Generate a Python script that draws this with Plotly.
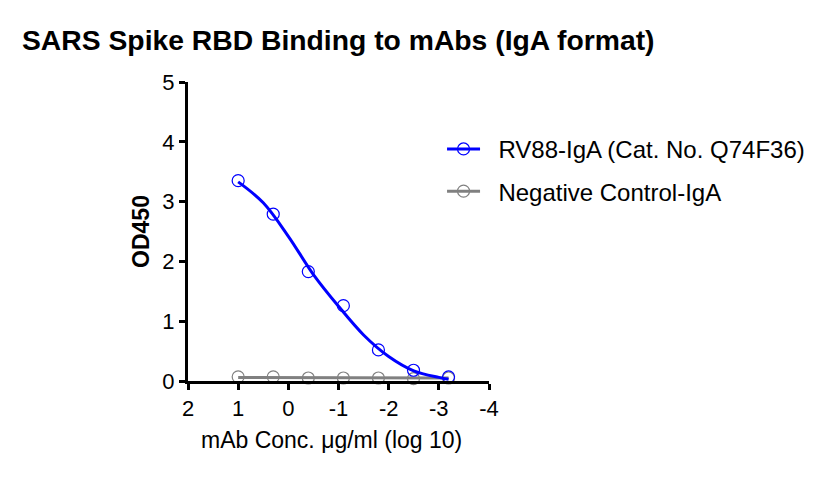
import plotly.graph_objects as go

# data: log10 concentration (ug/ml)
log_conc = [1.0, 0.301, -0.398, -1.097, -1.796, -2.495, -3.194]
rv88_od = [3.35, 2.79, 1.83, 1.26, 0.52, 0.18, 0.07]
neg_od = [0.07, 0.07, 0.05, 0.05, 0.05, 0.04, 0.05]

# fitted curve
fit_x = [1.0, 0.5, 0.0, -0.5, -1.0, -1.5, -2.0, -2.5, -3.0, -3.194]
fit_rv88 = [3.33, 2.98, 2.42, 1.78, 1.25, 0.77, 0.41, 0.17, 0.06, 0.03]
fit_neg_x = [1.0, -3.194]
fit_neg = [0.06, 0.05]

x_ticks = [2, 1, 0, -1, -2, -3, -4]
x_ticktext = ["2", "1", "0", "-1", "-2", "-3", "-4"]
y_ticks = [0, 1, 2, 3, 4, 5]

BLUE = "#0000FF"
GRAY = "#808080"
FONT = "Arial, Liberation Sans, sans-serif"

marker_blue = dict(symbol="circle-open", size=12, color=BLUE, line=dict(width=1.2))
marker_gray = dict(symbol="circle-open", size=12, color=GRAY, line=dict(width=1.2))

fig = go.Figure()
fig.add_trace(go.Scatter(x=fit_neg_x, y=fit_neg, mode="lines",
                         line=dict(color=GRAY, width=3), showlegend=False, cliponaxis=False))
fig.add_trace(go.Scatter(x=log_conc, y=neg_od, mode="markers", marker=marker_gray,
                         showlegend=False, cliponaxis=False))
fig.add_trace(go.Scatter(x=fit_x, y=fit_rv88, mode="lines", line_shape="spline",
                         line=dict(color=BLUE, width=3), showlegend=False, cliponaxis=False))
fig.add_trace(go.Scatter(x=log_conc, y=rv88_od, mode="markers", marker=marker_blue,
                         showlegend=False, cliponaxis=False))
# legend entries
NB = "\u00a0\u00a0"
fig.add_trace(go.Scatter(x=[None], y=[None], mode="lines+markers", name=NB + "RV88-IgA (Cat. No. Q74F36)",
                         line=dict(color=BLUE, width=3), marker=marker_blue, legendgroup="a"))
fig.add_trace(go.Scatter(x=[None], y=[None], mode="lines+markers", name=NB + "Negative Control-IgA",
                         line=dict(color=GRAY, width=3), marker=marker_gray, legendgroup="b"))

W, H = 828, 469
fig.update_layout(
    width=W, height=H,
    margin=dict(l=180, r=347, t=74, b=96),
    paper_bgcolor="white", plot_bgcolor="white",
    font=dict(family=FONT, size=22, color="black"),
    title=dict(text="<b>SARS Spike RBD Binding to mAbs (IgA format)</b>",
               x=14 / W, xanchor="left", y=1 - 32 / H, yanchor="middle",
               font=dict(size=28.3, family=FONT, color="black")),
    legend=dict(x=0.844, y=0.85, xanchor="left", yanchor="top",
                font=dict(size=24, family=FONT), tracegroupgap=8, itemwidth=33,
                bgcolor="rgba(0,0,0,0)"),
    xaxis=dict(range=[2, -4], tickvals=x_ticks, ticktext=x_ticktext,
               showgrid=False, zeroline=False, showline=True, linecolor="black", linewidth=3,
               ticks="outside", ticklen=6, tickwidth=2.5, tickcolor="black",
               tickfont=dict(size=22)),
    yaxis=dict(range=[0, 5], tickvals=y_ticks,
               showgrid=False, zeroline=False, showline=True, linecolor="black", linewidth=3,
               ticks="outside", ticklen=6, tickwidth=2.5, tickcolor="black",
               tickfont=dict(size=22),
               title=dict(text="<b>OD450</b>", font=dict(size=23), standoff=7)),
    annotations=[dict(text="mAb Conc. μg/ml (log 10)", xref="paper", yref="paper",
                      x=(331 - 188) / 301, y=-(440 - 381) / 299, xanchor="center", yanchor="middle",
                      showarrow=False, font=dict(size=23, family=FONT, color="black"))],
)

fig.write_html("out.html")
